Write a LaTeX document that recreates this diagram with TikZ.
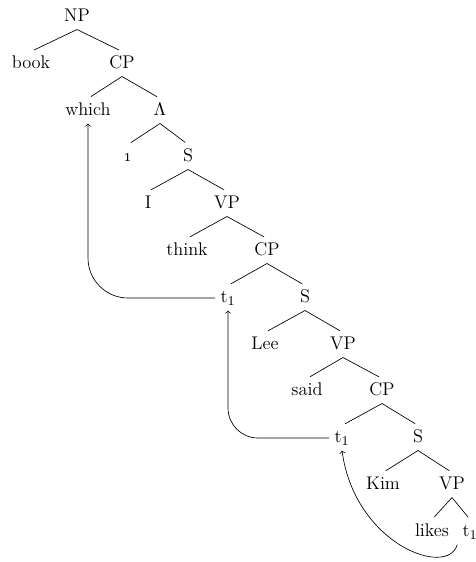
\documentclass[tikz,border=0pt]{standalone}
\begin{document}
\begin{tikzpicture}[x=0.6pt,y=0.6pt,
    font=\fontsize{11}{13}\selectfont,
    every node/.style={text height=1.6ex,text depth=.4ex,inner sep=3pt}]
  \useasboundingbox (0,0) rectangle (475,-562);
  \draw
    (77,-17) node (np){NP}
    (31,-64) node (book){book}
    (122,-64) node (cp1){CP}
    (88,-111) node (which){which}
    (160,-111) node (lam){$\Lambda$}
    (128,-157) node (one){\oldstylenums{1}}
    (188,-157) node (s1){S}
    (148,-204) node (i){I}
    (227,-204) node (vp1){VP}
    (187,-251) node (think){think}
    (267,-251) node (cp2){CP}
    (228,-298) node (ta){t$_1$}
    (305,-298) node (s2){S}
    (265,-345) node (lee){Lee}
    (343,-345) node (vp2){VP}
    (307,-391) node (said){said}
    (382,-391) node (cp3){CP}
    (342,-438) node (tb){t$_1$}
    (418,-438) node (s3){S}
    (383,-485) node (kim){Kim}
    (452,-485) node (vp3){VP}
    (432,-532) node (likes){likes}
    (470,-532) node (tc){t$_1$};
  \begin{scope}[shorten >=2pt]
    \draw (np.south) to (book.north);
    \draw (np.south) to (cp1.north);
    \draw (cp1.south) to (which.north);
    \draw (cp1.south) to (lam.north);
    \draw (lam.south) to (one.north);
    \draw (lam.south) to (s1.north);
    \draw (s1.south) to (i.north);
    \draw (s1.south) to (vp1.north);
    \draw (vp1.south) to (think.north);
    \draw (vp1.south) to (cp2.north);
    \draw (cp2.south) to (ta.north);
    \draw (cp2.south) to (s2.north);
    \draw (s2.south) to (lee.north);
    \draw (s2.south) to (vp2.north);
    \draw (vp2.south) to (said.north);
    \draw (vp2.south) to (cp3.north);
    \draw (cp3.south) to (tb.north);
    \draw (cp3.south) to (s3.north);
    \draw (s3.south) to (kim.north);
    \draw (s3.south) to (vp3.north);
    \draw (vp3.south) to (likes.north);
    \draw (vp3.south) to (tc.north);
  \end{scope}
  % movement arrows
  \draw[->,rounded corners=24pt] (ta.west) -| (which.south);
  \draw[->,rounded corners=18pt] (tb.west) -| (ta.south);
  \draw[->] (tc.south west) .. controls (448,-578) and (355,-545) .. (tb.south);
\end{tikzpicture}
\end{document}
